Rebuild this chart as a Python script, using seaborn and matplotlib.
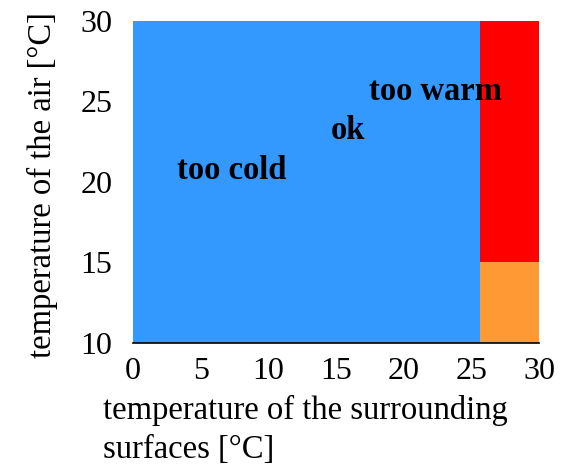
import matplotlib
matplotlib.use("Agg")
import matplotlib.pyplot as plt
import seaborn as sns
import pandas as pd

# zones: x range (surface temp) and y range (air temp)
zone_names = ["too cold / ok", "too warm", "hot surfaces, cool air"]
x_start = [0, 25.6, 25.6]
x_end = [25.6, 30, 30]
y_start = [10, 15, 10]
y_end = [30, 30, 15]
zone_colors = ["#3399ff", "#ff0000", "#ff9933"]

labels = ["too cold", "ok", "too warm"]
label_x = [3.25, 14.6, 17.4]
label_y = [20.7, 23.2, 25.65]

x_ticks = [0, 5, 10, 15, 20, 25, 30]
y_ticks = [10, 15, 20, 25, 30]

sns.set_theme(style="white")
plt.rcParams["font.family"] = ["Liberation Serif", "DejaVu Serif"]
plt.rcParams["text.color"] = "black"
plt.rcParams["xtick.color"] = "black"
plt.rcParams["ytick.color"] = "black"

df = pd.DataFrame({"zone": zone_names, "x0": x_start, "x1": x_end,
                   "y0": y_start, "y1": y_end, "color": zone_colors})

fig = plt.figure(figsize=(5.64, 4.66), dpi=100)
ax = fig.add_axes([0.236, 0.264, 0.72, 0.691])

ax.bar(df["x0"], df["y1"] - df["y0"], width=df["x1"] - df["x0"],
       bottom=df["y0"], align="edge", color=df["color"], linewidth=0)

for t, x, y in zip(labels, label_x, label_y):
    ax.text(x, y, t, fontsize=23.5, fontweight="bold", va="center", ha="left",
            color="black")

ax.set_xlim(0, 30)
ax.set_ylim(10, 30)
ax.set_xticks(x_ticks)
ax.set_yticks(y_ticks)
ax.tick_params(axis="both", labelsize=23, length=0, labelcolor="black")
ax.tick_params(axis="x", pad=10)
ax.tick_params(axis="y", pad=15)
for s in ["top", "right", "left"]:
    ax.spines[s].set_visible(False)
ax.spines["bottom"].set_color("black")
ax.spines["bottom"].set_linewidth(1.2)

fig.text(0.183, 0.152, "temperature of the surrounding\nsurfaces [°C]",
         fontsize=23.5, ha="left", va="top", linespacing=1.37, color="black")
fig.text(0.075, 0.603, "temperature of the air [°C]", fontsize=23.5,
         rotation=90, ha="center", va="center", color="black")

fig.savefig("out.png", dpi=100)
